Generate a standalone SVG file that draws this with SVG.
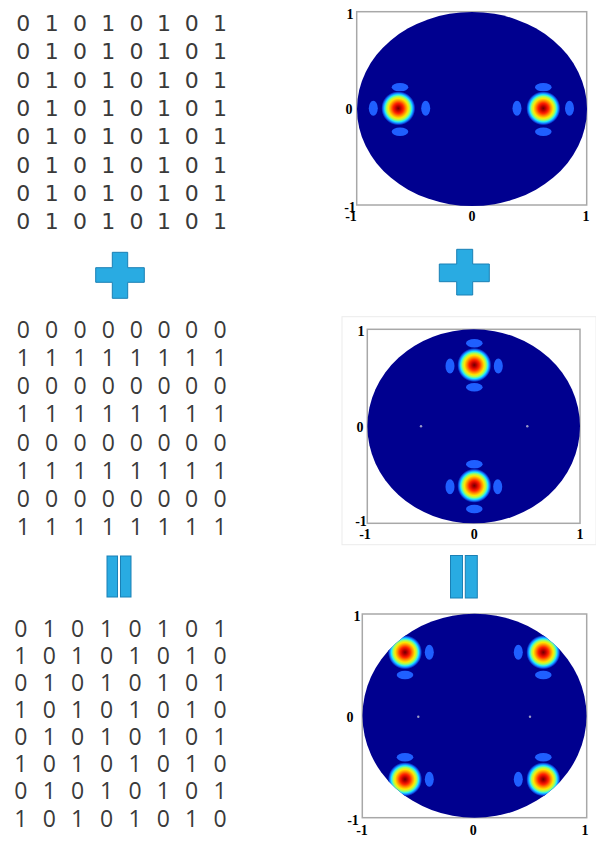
<svg xmlns="http://www.w3.org/2000/svg" width="596" height="842" viewBox="0 0 596 842">
<style>
.mA{font-family:"DejaVu Sans",sans-serif;font-size:22px;fill:#3a3a3a;text-anchor:middle}
.mB{font-family:"Open Sans","DejaVu Sans",sans-serif;font-size:23px;fill:#3a3a3a;text-anchor:middle}
.tk{font-family:"Liberation Serif",serif;font-size:14px;font-weight:bold;fill:#000;text-anchor:middle}
.frame{fill:#fff;stroke:#a8a8a8;stroke-width:1.5}
.disk{fill:#00008f}
.lobe{fill:#1f5fff}
.dot{fill:#9a9ac8}
.sym{fill:#29abe2;stroke:#1b80b5;stroke-width:1}
</style>
<defs>
<radialGradient id="hot" cx="0.5" cy="0.5" r="0.5">
<stop offset="0" stop-color="#700000"/>
<stop offset="0.15" stop-color="#c00000"/>
<stop offset="0.3" stop-color="#ff2000"/>
<stop offset="0.45" stop-color="#ff9000"/>
<stop offset="0.58" stop-color="#ffe800"/>
<stop offset="0.7" stop-color="#a0ff60"/>
<stop offset="0.8" stop-color="#20e8ff"/>
<stop offset="0.9" stop-color="#1070ff"/>
<stop offset="1" stop-color="#00008f"/>
</radialGradient>
<clipPath id="clipC"><ellipse cx="474.5" cy="715.8" rx="112" ry="102"/></clipPath>
</defs>

<g id="matrix-a">
<text class="mA" x="23.3 51.7 80 108.3 136.5 164 191.7 220" y="31">01010101</text>
<text class="mA" x="23.3 51.7 80 108.3 136.5 164 191.7 220" y="59.3">01010101</text>
<text class="mA" x="23.3 51.7 80 108.3 136.5 164 191.7 220" y="87.6">01010101</text>
<text class="mA" x="23.3 51.7 80 108.3 136.5 164 191.7 220" y="115.9">01010101</text>
<text class="mA" x="23.3 51.7 80 108.3 136.5 164 191.7 220" y="144.2">01010101</text>
<text class="mA" x="23.3 51.7 80 108.3 136.5 164 191.7 220" y="172.5">01010101</text>
<text class="mA" x="23.3 51.7 80 108.3 136.5 164 191.7 220" y="200.8">01010101</text>
<text class="mA" x="23.3 51.7 80 108.3 136.5 164 191.7 220" y="229.1">01010101</text>
</g>

<g id="plus-1">
<path class="sym" d="M112.3,252.3 H127.7 V267.7 H144.3 V282.3 H127.7 V298.3 H112.3 V282.3 H95.7 V267.7 H112.3 Z"/>
</g>

<g id="matrix-b">
<text class="mB" x="23.3 51.7 80 108.3 136.3 164 191.7 220" y="338">00000000</text>
<text class="mB" x="23.3 51.7 80 108.3 136.3 164 191.7 220" y="366.1">11111111</text>
<text class="mB" x="23.3 51.7 80 108.3 136.3 164 191.7 220" y="394.3">00000000</text>
<text class="mB" x="23.3 51.7 80 108.3 136.3 164 191.7 220" y="422.4">11111111</text>
<text class="mB" x="23.3 51.7 80 108.3 136.3 164 191.7 220" y="450.6">00000000</text>
<text class="mB" x="23.3 51.7 80 108.3 136.3 164 191.7 220" y="478.7">11111111</text>
<text class="mB" x="23.3 51.7 80 108.3 136.3 164 191.7 220" y="506.9">00000000</text>
<text class="mB" x="23.3 51.7 80 108.3 136.3 164 191.7 220" y="535">11111111</text>
</g>

<g id="equals-1">
<rect class="sym" x="107" y="556" width="10.5" height="41"/>
<rect class="sym" x="120.5" y="556" width="10.5" height="41"/>
</g>

<g id="matrix-c">
<text class="mB" x="20.8 49.3 77.5 106.5 135 163.3 191.7 220" y="636.7">01010101</text>
<text class="mB" x="20.8 49.3 77.5 106.5 135 163.3 191.7 220" y="663.8">10101010</text>
<text class="mB" x="20.8 49.3 77.5 106.5 135 163.3 191.7 220" y="691">01010101</text>
<text class="mB" x="20.8 49.3 77.5 106.5 135 163.3 191.7 220" y="718">10101010</text>
<text class="mB" x="20.8 49.3 77.5 106.5 135 163.3 191.7 220" y="745.2">01010101</text>
<text class="mB" x="20.8 49.3 77.5 106.5 135 163.3 191.7 220" y="772.3">10101010</text>
<text class="mB" x="20.8 49.3 77.5 106.5 135 163.3 191.7 220" y="799.4">01010101</text>
<text class="mB" x="20.8 49.3 77.5 106.5 135 163.3 191.7 220" y="826.5">10101010</text>
</g>

<g id="plot-a">
<rect class="frame" x="356.7" y="11.7" width="230" height="193.3"/>
<ellipse class="disk" cx="472" cy="109" rx="115" ry="97"/>
<ellipse class="lobe" cx="400" cy="87.3" rx="8.3" ry="4.2"/>
<ellipse class="lobe" cx="400" cy="131.7" rx="8.3" ry="4.2"/>
<ellipse class="lobe" cx="373.3" cy="108.3" rx="4.5" ry="7.5"/>
<ellipse class="lobe" cx="425.7" cy="108.3" rx="4.5" ry="7.5"/>
<ellipse class="lobe" cx="543.3" cy="87.3" rx="8.3" ry="4.2"/>
<ellipse class="lobe" cx="543.3" cy="131.7" rx="8.3" ry="4.2"/>
<ellipse class="lobe" cx="517" cy="108.3" rx="4.5" ry="7.5"/>
<ellipse class="lobe" cx="569.5" cy="108.3" rx="4.5" ry="7.5"/>
<rect x="381.3" y="91.3" width="34" height="34" rx="12" fill="url(#hot)"/>
<rect x="526.3" y="91.3" width="34" height="34" rx="12" fill="url(#hot)"/>
<text class="tk" x="350" y="19">1</text>
<text class="tk" x="349" y="114">0</text>
<text class="tk" x="350" y="212">-1</text>
<text class="tk" x="351" y="221">-1</text>
<text class="tk" x="472" y="221">0</text>
<text class="tk" x="586" y="221">1</text>
</g>

<g id="plus-2">
<path class="sym" d="M456.7,249.3 H472.7 V264 H489.3 V281.7 H472.7 V295 H456.7 V281.7 H439.3 V264 H456.7 Z"/>
</g>

<g id="plot-b">
<rect x="342" y="316.7" width="254" height="228" fill="none" stroke="#ececec" stroke-width="1"/>
<rect class="frame" x="367.3" y="329.3" width="212.7" height="194"/>
<ellipse class="disk" cx="473.7" cy="426.3" rx="106.3" ry="97"/>
<ellipse class="lobe" cx="474.3" cy="343.3" rx="8.3" ry="4.2"/>
<ellipse class="lobe" cx="474.3" cy="387.3" rx="8.3" ry="4.2"/>
<ellipse class="lobe" cx="450" cy="366" rx="4.5" ry="7.5"/>
<ellipse class="lobe" cx="498.3" cy="366" rx="4.5" ry="7.5"/>
<ellipse class="lobe" cx="474.3" cy="464.3" rx="8.3" ry="4.2"/>
<ellipse class="lobe" cx="474.3" cy="509" rx="8.3" ry="4.2"/>
<ellipse class="lobe" cx="450" cy="486.7" rx="4.5" ry="7.5"/>
<ellipse class="lobe" cx="497.7" cy="486.7" rx="4.5" ry="7.5"/>
<rect x="457.3" y="348" width="34" height="34" rx="12" fill="url(#hot)"/>
<rect x="457.3" y="468.7" width="34" height="34" rx="12" fill="url(#hot)"/>
<circle class="dot" cx="421" cy="426.3" r="1.2"/>
<circle class="dot" cx="527.3" cy="426.3" r="1.2"/>
<text class="tk" x="361" y="336">1</text>
<text class="tk" x="360" y="432">0</text>
<text class="tk" x="361" y="526">-1</text>
<text class="tk" x="365" y="539">-1</text>
<text class="tk" x="474.3" y="539">0</text>
<text class="tk" x="580" y="539">1</text>
</g>

<g id="equals-2">
<rect class="sym" x="450.5" y="555.5" width="12" height="42.5"/>
<rect class="sym" x="465.3" y="555.5" width="12" height="42.5"/>
</g>

<g id="plot-c">
<rect class="frame" x="362.3" y="614" width="224.4" height="203.7"/>
<ellipse class="disk" cx="474.5" cy="715.8" rx="112" ry="102"/>
<g clip-path="url(#clipC)">
<ellipse class="lobe" cx="429.3" cy="652.3" rx="4.5" ry="7.5"/>
<ellipse class="lobe" cx="405" cy="675" rx="8.3" ry="4.2"/>
<ellipse class="lobe" cx="518.3" cy="652.3" rx="4.5" ry="7.5"/>
<ellipse class="lobe" cx="543.3" cy="675" rx="8.3" ry="4.2"/>
<ellipse class="lobe" cx="405" cy="757.3" rx="8.3" ry="4.2"/>
<ellipse class="lobe" cx="429.3" cy="779.3" rx="4.5" ry="7.5"/>
<ellipse class="lobe" cx="543.3" cy="757.3" rx="8.3" ry="4.2"/>
<ellipse class="lobe" cx="518.3" cy="779.3" rx="4.5" ry="7.5"/>
<rect x="388" y="635.3" width="34" height="34" rx="12" fill="url(#hot)"/>
<rect x="526.3" y="635.3" width="34" height="34" rx="12" fill="url(#hot)"/>
<rect x="388" y="762.3" width="34" height="34" rx="12" fill="url(#hot)"/>
<rect x="526.3" y="762.3" width="34" height="34" rx="12" fill="url(#hot)"/>
</g>
<circle class="dot" cx="418.3" cy="716.7" r="1.2"/>
<circle class="dot" cx="530" cy="716.7" r="1.2"/>
<text class="tk" x="357" y="621">1</text>
<text class="tk" x="350" y="722">0</text>
<text class="tk" x="353" y="825">-1</text>
<text class="tk" x="362" y="835">-1</text>
<text class="tk" x="473.3" y="835">0</text>
<text class="tk" x="585" y="835">1</text>
</g>
</svg>
